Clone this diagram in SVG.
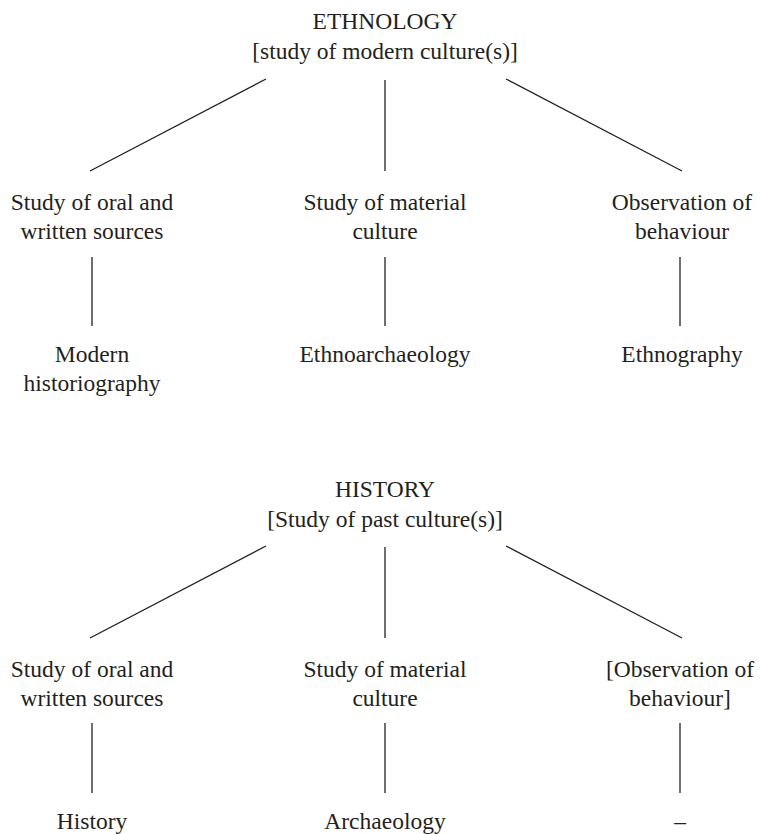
<svg xmlns="http://www.w3.org/2000/svg" width="760" height="834" viewBox="0 0 760 834">
<style>
text{font-family:"Liberation Serif","Times New Roman",serif;font-size:23.5px;fill:#231f20;text-anchor:middle}
line{stroke:#231f20;stroke-width:1.3;fill:none}
</style>
<rect width="760" height="834" fill="#ffffff"/>
<g id="connectors">
<line x1="266" y1="79" x2="90" y2="171"/>
<line x1="385" y1="80" x2="385" y2="171"/>
<line x1="506" y1="79" x2="682" y2="171"/>
<line x1="92" y1="257" x2="92" y2="326"/>
<line x1="385" y1="257" x2="385" y2="326"/>
<line x1="680" y1="257" x2="680" y2="326"/>
<line x1="266" y1="546" x2="90" y2="638"/>
<line x1="385" y1="547" x2="385" y2="638"/>
<line x1="506" y1="546" x2="682" y2="638"/>
<line x1="92" y1="723" x2="92" y2="793"/>
<line x1="385" y1="723" x2="385" y2="793"/>
<line x1="680" y1="723" x2="680" y2="793"/>
</g>
<g id="ethnology"><text x="385" y="29">ETHNOLOGY</text><text x="385" y="59">[study of modern culture(s)]</text></g>
<g id="e-oral"><text x="92" y="210">Study of oral and</text><text x="92" y="239">written sources</text></g>
<g id="e-material"><text x="385" y="210">Study of material</text><text x="385" y="239">culture</text></g>
<g id="e-observation"><text x="682" y="210">Observation of</text><text x="682" y="239">behaviour</text></g>
<g id="e-historiography"><text x="92" y="362">Modern</text><text x="92" y="391">historiography</text></g>
<g id="e-ethnoarchaeology"><text x="385" y="362">Ethnoarchaeology</text></g>
<g id="e-ethnography"><text x="682" y="362">Ethnography</text></g>
<g id="history"><text x="385" y="497">HISTORY</text><text x="385" y="527">[Study of past culture(s)]</text></g>
<g id="h-oral"><text x="92" y="677">Study of oral and</text><text x="92" y="706">written sources</text></g>
<g id="h-material"><text x="385" y="677">Study of material</text><text x="385" y="706">culture</text></g>
<g id="h-observation"><text x="680" y="677">[Observation of</text><text x="680" y="706">behaviour]</text></g>
<g id="h-history"><text x="92" y="829">History</text></g>
<g id="h-archaeology"><text x="385" y="829">Archaeology</text></g>
<g id="h-none"><text x="680" y="829">–</text></g>
</svg>
